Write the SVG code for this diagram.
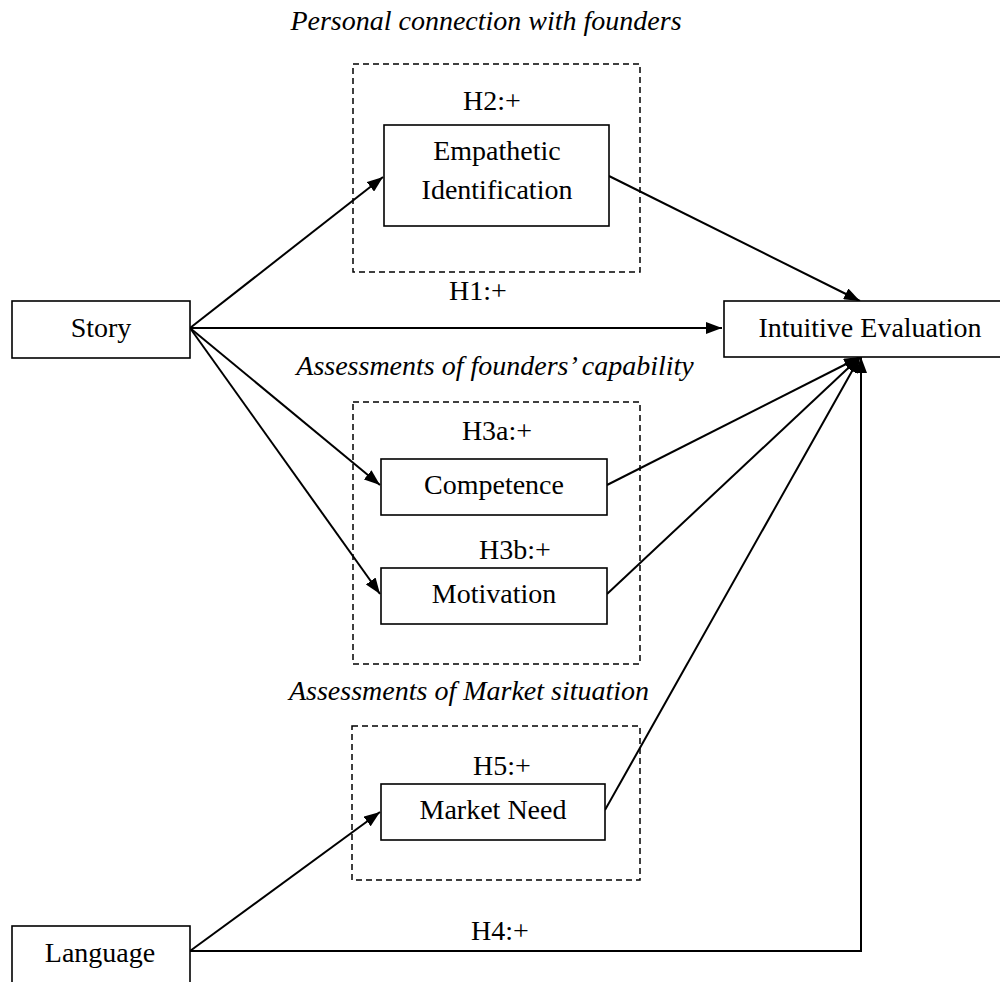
<svg xmlns="http://www.w3.org/2000/svg" width="1000" height="982" viewBox="0 0 1000 982">
<style>
text{font-family:"Liberation Serif","Times New Roman",serif;font-size:28px;fill:#000;text-anchor:middle}
.it{font-style:italic}
.box{fill:#fff;stroke:#000;stroke-width:1.6}
.grp{fill:none;stroke:#000;stroke-width:1.5;stroke-dasharray:6 4}
.ln{fill:none;stroke:#000;stroke-width:2}
</style>
<defs>
<marker id="ah" viewBox="0 0 16 12" refX="16" refY="6" markerWidth="16" markerHeight="12" markerUnits="userSpaceOnUse" orient="auto">
<path d="M0,0 L16,6 L0,12 Z" fill="#000"/>
</marker>
</defs>
<g id="groups">
<rect class="grp" x="353" y="64" width="287" height="208"/>
<rect class="grp" x="353" y="402" width="287" height="262"/>
<rect class="grp" x="352" y="726" width="288" height="154"/>
<text class="it" x="486" y="30">Personal connection with founders</text>
<text class="it" x="495" y="375">Assessments of founders’ capability</text>
<text class="it" x="469" y="700">Assessments of Market situation</text>
</g>
<g id="connectors">
<line class="ln" x1="190" y1="328" x2="383" y2="177" marker-end="url(#ah)"/>
<line class="ln" x1="190" y1="328" x2="722" y2="328" marker-end="url(#ah)"/>
<line class="ln" x1="190" y1="328" x2="380" y2="485" marker-end="url(#ah)"/>
<line class="ln" x1="190" y1="328" x2="380" y2="594" marker-end="url(#ah)"/>
<line class="ln" x1="609" y1="176" x2="860" y2="301" marker-end="url(#ah)"/>
<line class="ln" x1="607" y1="485" x2="860" y2="357" marker-end="url(#ah)"/>
<line class="ln" x1="607" y1="594" x2="860" y2="357" marker-end="url(#ah)"/>
<line class="ln" x1="605" y1="810" x2="860" y2="357" marker-end="url(#ah)"/>
<line class="ln" x1="190" y1="951" x2="380" y2="812" marker-end="url(#ah)"/>
<polyline class="ln" points="190,951 861,951 861,357" marker-end="url(#ah)"/>
<text x="478" y="300">H1:+</text>
<text x="500" y="940">H4:+</text>
</g>
<g id="story"><rect class="box" x="12" y="301" width="178" height="57"/><text x="101" y="337">Story</text></g>
<g id="intuitive"><rect class="box" x="724" y="301" width="280" height="56"/><text x="870" y="337">Intuitive Evaluation</text></g>
<g id="empathetic"><text x="492" y="110">H2:+</text><rect class="box" x="384" y="125" width="225" height="101"/><text x="497" y="160">Empathetic</text><text x="497" y="199">Identification</text></g>
<g id="competence"><text x="497" y="440">H3a:+</text><rect class="box" x="381" y="459" width="226" height="56"/><text x="494" y="494">Competence</text></g>
<g id="motivation"><text x="515" y="559">H3b:+</text><rect class="box" x="381" y="568" width="226" height="56"/><text x="494" y="603">Motivation</text></g>
<g id="market"><text x="502" y="775">H5:+</text><rect class="box" x="381" y="784" width="224" height="56"/><text x="493" y="819">Market Need</text></g>
<g id="language"><rect class="box" x="12" y="926" width="178" height="60"/><text x="100" y="962">Language</text></g>
</svg>
